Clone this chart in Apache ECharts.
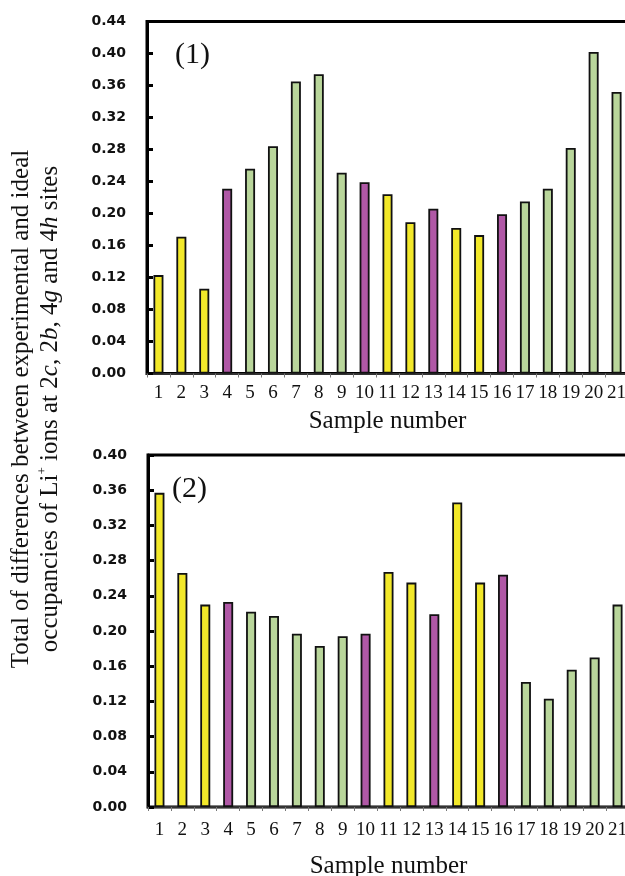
<!DOCTYPE html>
<html>
<head>
<meta charset="utf-8">
<script src="https://cdn.jsdelivr.net/npm/echarts@6/dist/echarts.min.js"></script>
<style>
  html, body { margin: 0; padding: 0; background: #fff; }
  #chart { width: 625px; height: 876px; }
</style>
</head>
<body>
<div id="chart"></div>
<script>
// ---- data ----
const categories = ['1','2','3','4','5','6','7','8','9','10','11','12','13','14','15','16','17','18','19','20','21'];
const siteGroups = ['Y','Y','Y','P','G','G','G','G','G','P','Y','Y','P','Y','Y','P','G','G','G','G','G'];
const values1 = [0.123,0.171,0.106,0.231,0.256,0.284,0.365,0.374,0.251,0.239,0.224,0.189,0.206,0.182,0.173,0.199,0.215,0.231,0.282,0.402,0.352];
const values2 = [0.357,0.266,0.230,0.233,0.222,0.217,0.197,0.183,0.194,0.197,0.267,0.255,0.219,0.346,0.255,0.264,0.142,0.123,0.156,0.170,0.230];
const yMax1 = 0.44;
const yMax2 = 0.40;
const yStep = 0.04;
const panelLabels = ['(1)', '(2)'];
const xTitle = 'Sample number';

const groupColors = { Y: '#f2e82a', P: '#b058a6', G: '#b9d69b' };

const chart = echarts.init(document.getElementById('chart'), null, { renderer: 'canvas' });

function barData(vals) {
  return vals.map((v, i) => ({ value: v, itemStyle: { color: groupColors[siteGroups[i]] } }));
}

const serif = '"Liberation Serif", "Times New Roman", serif';

function xAxisCfg(gridIndex, nameGap, labelMargin) {
  return {
    type: 'category', gridIndex, data: categories,
    name: xTitle, nameLocation: 'middle', nameGap,
    nameTextStyle: { fontFamily: serif, fontSize: 25, color: '#111' },
    axisLine: { show: true, lineStyle: { color: '#333', width: 2 } },
    axisTick: { show: true, inside: false, length: 4, lineStyle: { color: '#777', width: 1 } },
    axisLabel: { interval: 0, margin: labelMargin, fontFamily: serif, fontSize: 19, color: '#111' },
    splitLine: { show: false }
  };
}
function yAxisCfg(gridIndex, max) {
  return {
    type: 'value', gridIndex, min: 0, max, interval: yStep,
    axisLine: { show: true, lineStyle: { color: '#000', width: 3 } },
    axisTick: { show: true, inside: true, length: 6, lineStyle: { color: '#000', width: 3 } },
    axisLabel: { margin: 21, fontFamily: '"DejaVu Sans", Verdana, sans-serif', fontWeight: 'bold', fontSize: 14, color: '#111',
      formatter: v => v.toFixed(2) },
    splitLine: { show: false }
  };
}
function seriesCfg(idx, vals) {
  return {
    type: 'bar', xAxisIndex: idx, yAxisIndex: idx, data: barData(vals),
    barWidth: 10,
    itemStyle: { borderColor: '#111', borderWidth: 1.8 },
    animation: false
  };
}

chart.setOption({
  animation: false,
  backgroundColor: '#fff',
  grid: [
    { left: 147, top: 21.5, width: 481, height: 352, containLabel: false, outerBoundsMode: 'none',
      show: true, borderColor: '#000', borderWidth: 3, backgroundColor: 'transparent' },
    { left: 148, top: 455, width: 481, height: 352, containLabel: false, outerBoundsMode: 'none',
      show: true, borderColor: '#000', borderWidth: 3, backgroundColor: 'transparent' }
  ],
  xAxis: [xAxisCfg(0, 35, 10), xAxisCfg(1, 47, 14)],
  yAxis: [yAxisCfg(0, yMax1), yAxisCfg(1, yMax2)],
  series: [seriesCfg(0, values1), seriesCfg(1, values2)],
  graphic: [
    { type: 'text', left: 175, top: 40, style: { text: panelLabels[0], font: '30px ' + serif, fill: '#111' } },
    { type: 'text', left: 172, top: 474, style: { text: panelLabels[1], font: '30px ' + serif, fill: '#111' } },
    {
      type: 'text', x: 36, y: 409, rotation: Math.PI / 2,
      style: {
        text: 'Total of differences between experimental and ideal\noccupancies of Li{sup|+} ions at 2{i|c}, 2{i|b}, 4{i|g} and 4{i|h} sites',
        font: '25px ' + serif, fill: '#111', align: 'center', verticalAlign: 'middle', lineHeight: 29,
        rich: {
          sup: { fontSize: 13, fontFamily: serif, verticalAlign: 'top', lineHeight: 29, fill: '#111', padding: [0, 0, 10, 0] },
          i: { fontSize: 25, fontFamily: serif, fontStyle: 'italic', fill: '#111', lineHeight: 29 }
        }
      }
    }
  ]
});
</script>
</body>
</html>
